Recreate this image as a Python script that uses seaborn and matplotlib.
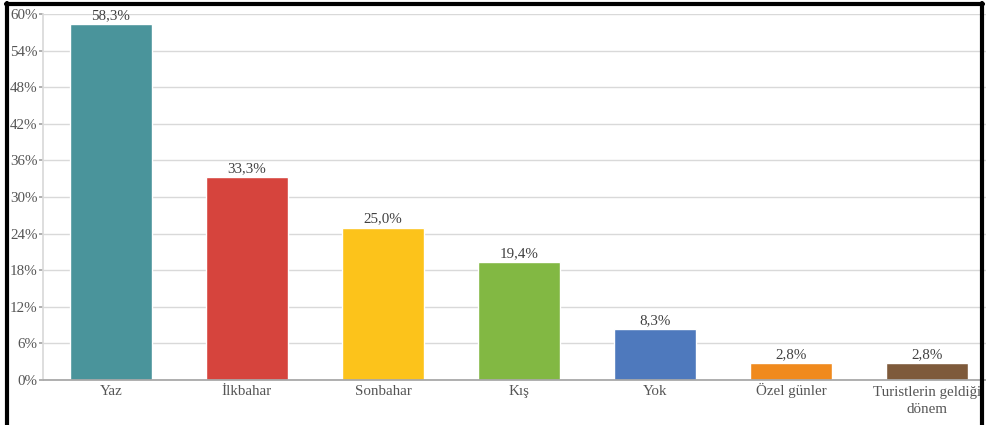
import matplotlib
matplotlib.use("Agg")
import matplotlib.pyplot as plt
from matplotlib.lines import Line2D
from matplotlib.transforms import offset_copy
import seaborn as sns
import pandas as pd

categories = ["Yaz", "İlkbahar", "Sonbahar", "Kış", "Yok", "Özel günler",
              "Turistlerin geldiği\ndönem"]
values = [58.3, 33.3, 25.0, 19.4, 8.3, 2.8, 2.8]
value_labels = ["58,3%", "33,3%", "25,0%", "19,4%", "8,3%", "2,8%", "2,8%"]
yticks = [0, 6, 12, 18, 24, 30, 36, 42, 48, 54, 60]
colors = ["#4a949b", "#d6443d", "#fcc31b", "#82b843", "#4e79bd", "#f08a1d", "#7e5a3b"]

sns.set_theme(style="white")
plt.rcParams["font.serif"] = ["Liberation Serif", "Times New Roman", "DejaVu Serif"]
plt.rcParams["font.family"] = ["serif"]

FS = 10.8
LINESPACING = 1.44
LINE_STEP_PT = 12.96  # distance between label baselines

df = pd.DataFrame({"cat": categories, "val": values})

fig = plt.figure(figsize=(9.87, 4.25), dpi=100)
ax = fig.add_axes([43 / 987, 45 / 425, 952 / 987, 366 / 425])

sns.barplot(data=df, x="cat", y="val", hue="cat", palette=colors, legend=False,
            width=0.6, saturation=1, ax=ax, zorder=3)

ax.set_ylim(0, 60)
ax.set_xlim(-0.5, 6.5)
ax.set_yticks(yticks)
ax.set_yticklabels([f"{t}%" for t in yticks])
ax.yaxis.grid(True, color="#d9d9d9", linewidth=1, zorder=0)
ax.set_xlabel("")
ax.set_ylabel("")

for s in ["top", "right"]:
    ax.spines[s].set_visible(False)
ax.spines["left"].set_color("#d9d9d9")
ax.spines["left"].set_zorder(4)
ax.spines["bottom"].set_color("#a6a6a6")
ax.spines["bottom"].set_zorder(4)

ax.tick_params(axis="y", left=True, length=3, color="#a6a6a6", labelsize=FS,
               labelcolor="#555555", pad=1)
ax.tick_params(axis="x", bottom=False, labelbottom=False)

# category labels, first-line baselines aligned just below the axis
for i, cat in enumerate(categories):
    extra = cat.count("\n") * LINE_STEP_PT
    tr = offset_copy(ax.get_xaxis_transform(), fig=fig, y=-(10.8 + extra),
                     units="points")
    ax.text(i, 0, cat, transform=tr, ha="center", va="baseline", fontsize=FS,
            color="#555555", linespacing=LINESPACING, multialignment="center")

for i, (v, lab) in enumerate(zip(values, value_labels)):
    ax.text(i, v + 0.3, lab, ha="center", va="bottom", fontsize=FS,
            color="#404040", zorder=5)

# frame lines around the figure
lw = 3
fig.add_artist(Line2D([7 / 987, 7 / 987], [0, 1 - 3 / 425], color="black", lw=lw,
                      transform=fig.transFigure))
fig.add_artist(Line2D([982 / 987, 982 / 987], [0, 1 - 3 / 425], color="black", lw=lw,
                      transform=fig.transFigure))
fig.add_artist(Line2D([6 / 987, 983 / 987], [1 - 4 / 425, 1 - 4 / 425], color="black",
                      lw=lw, transform=fig.transFigure))

fig.savefig("out.png", dpi=100)
